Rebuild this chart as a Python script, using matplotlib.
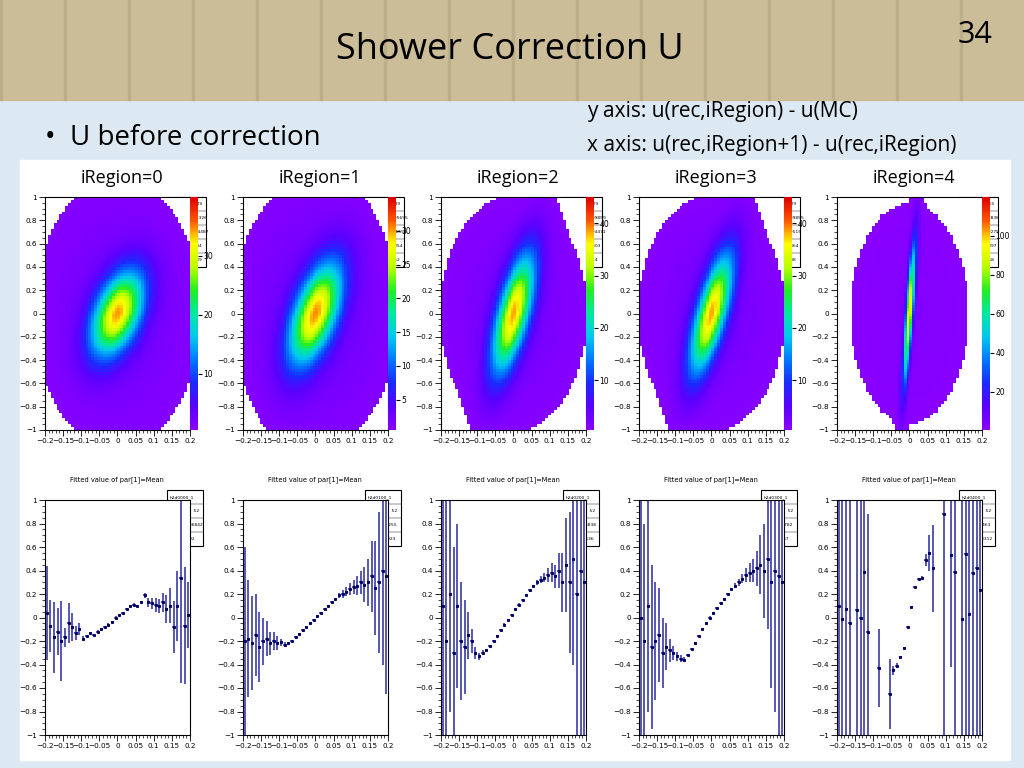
import numpy as np
import matplotlib
matplotlib.use("Agg")
import matplotlib.pyplot as plt
from matplotlib.colors import LinearSegmentedColormap
from matplotlib.patches import Rectangle

W, H = 1024, 768
regions = ["iRegion=0", "iRegion=1", "iRegion=2", "iRegion=3", "iRegion=4"]
# 2D histogram shape: centre x, centre y, sigma x, sigma y, correlation, peak
hx0 = [0.0, 0.0, 0.0, 0.0, 0.0]
hy0 = [0.0, 0.0, 0.0, 0.0, 0.0]
hsx = [0.05, 0.05, 0.04, 0.04, 0.012]
hsy = [0.25, 0.30, 0.35, 0.35, 0.40]
hrho = [0.45, 0.55, 0.65, 0.7, 0.8]
hpeak = [40, 35, 45, 45, 120]
# broad background spread (x, y)
bsx = [0.17, 0.17, 0.15, 0.15, 0.12]
bsy = [0.85, 0.85, 0.75, 0.75, 0.70]
cb_ticks = [[10, 20, 30], [5, 10, 15, 20, 25, 30], [10, 20, 30, 40], [10, 20, 30, 40], [20, 40, 60, 80, 100]]
stat_top = [["Entries   22149", "Mean x 0.002326", "Mean y -0.004487", "RMS x   0.0734", "RMS y   0.3089"],
            ["Entries   20139", "Mean x 0.0005695", "Mean y -0.001551", "RMS x   0.07354", "RMS y   0.3262"],
            ["Entries   20109", "Mean x 0.0009859", "Mean y 0.0004471", "RMS x   0.06603", "RMS y   0.3714"],
            ["Entries   20109", "Mean x 0.0009855", "Mean y 0.000515", "RMS x   0.06864", "RMS y   0.3408"],
            ["Entries   22165", "Mean x 0.002838", "Mean y 0.000275", "RMS x   0.04397", "RMS y   0.4158"]]
prof_names = ["h2d0000_1", "h2d0100_1", "h2d0200_1", "h2d0300_1", "h2d0400_1"]
prof_mean = ["-0.06842", "0.5255", "-0.6838", "0.6782", "0.1463"]
prof_rms = ["0.192", "0.4923", "0.5536", "0.647", "0.08312"]

px = [-0.195, -0.185, -0.175, -0.165, -0.155, -0.145, -0.135, -0.125, -0.115, -0.105,
      -0.095, -0.085, -0.075, -0.065, -0.055, -0.045, -0.035, -0.025, -0.015, -0.005,
      0.005, 0.015, 0.025, 0.035, 0.045, 0.055, 0.065, 0.075, 0.085, 0.095,
      0.105, 0.115, 0.125, 0.135, 0.145, 0.155, 0.165, 0.175, 0.185, 0.195]
py0 = [0.04, -0.07, -0.17, -0.12, -0.20, -0.17, -0.05, -0.08, -0.13, -0.10,
       -0.18, -0.16, -0.13, -0.15, -0.12, -0.10, -0.08, -0.06, -0.04, 0.00,
       0.02, 0.04, 0.07, 0.10, 0.11, 0.10, 0.13, 0.19, 0.13, 0.12,
       0.11, 0.10, 0.13, 0.07, 0.10, -0.08, 0.10, 0.34, -0.07, 0.02]
pe0 = [0.40, 0.22, 0.30, 0.20, 0.34, 0.08, 0.17, 0.12, 0.06, 0.05,
       0.02, 0.01, 0.01, 0.01, 0.01, 0.01, 0.01, 0.01, 0.01, 0.01,
       0.01, 0.01, 0.01, 0.01, 0.01, 0.01, 0.01, 0.02, 0.04, 0.05,
       0.06, 0.06, 0.08, 0.12, 0.15, 0.22, 0.30, 0.90, 0.50, 0.28]
py1 = [-0.20, -0.18, -0.22, -0.15, -0.25, -0.20, -0.18, -0.22, -0.20, -0.22,
       -0.21, -0.23, -0.22, -0.20, -0.17, -0.14, -0.11, -0.08, -0.05, -0.02,
       0.01, 0.04, 0.07, 0.10, 0.13, 0.16, 0.19, 0.20, 0.22, 0.24,
       0.26, 0.27, 0.30, 0.28, 0.30, 0.35, 0.25, 0.30, 0.40, 0.35]
pe1 = [0.80, 0.50, 0.40, 0.35, 0.30, 0.20, 0.15, 0.10, 0.08, 0.06,
       0.03, 0.02, 0.01, 0.01, 0.01, 0.01, 0.01, 0.01, 0.01, 0.01,
       0.01, 0.01, 0.01, 0.01, 0.01, 0.01, 0.02, 0.03, 0.04, 0.05,
       0.06, 0.08, 0.10, 0.15, 0.20, 0.30, 0.40, 0.60, 0.80, 1.00]
py2 = [0.10, -0.20, 0.20, -0.30, 0.10, -0.20, -0.25, -0.15, -0.20, -0.30,
       -0.33, -0.30, -0.28, -0.24, -0.20, -0.16, -0.11, -0.06, -0.02, 0.02,
       0.07, 0.11, 0.15, 0.19, 0.23, 0.27, 0.30, 0.32, 0.34, 0.36,
       0.38, 0.35, 0.40, 0.30, 0.45, 0.30, 0.50, 0.20, 0.40, 0.30]
pe2 = [1.50, 1.20, 1.00, 0.90, 0.70, 0.50, 0.40, 0.20, 0.10, 0.05,
       0.03, 0.02, 0.01, 0.01, 0.01, 0.01, 0.01, 0.01, 0.01, 0.01,
       0.01, 0.01, 0.01, 0.01, 0.01, 0.01, 0.02, 0.03, 0.04, 0.06,
       0.08, 0.10, 0.15, 0.25, 0.40, 0.60, 0.90, 1.20, 1.50, 1.50]
py3 = [0.00, -0.20, 0.10, -0.25, -0.20, -0.15, -0.30, -0.25, -0.28, -0.30,
       -0.33, -0.35, -0.36, -0.32, -0.27, -0.22, -0.16, -0.10, -0.05, 0.00,
       0.04, 0.08, 0.12, 0.16, 0.20, 0.24, 0.27, 0.30, 0.33, 0.36,
       0.38, 0.40, 0.42, 0.45, 0.40, 0.50, 0.30, 0.40, 0.35, 0.30]
pe3 = [1.50, 1.00, 0.90, 0.70, 0.50, 0.40, 0.30, 0.20, 0.10, 0.06,
       0.04, 0.03, 0.02, 0.01, 0.01, 0.01, 0.01, 0.01, 0.01, 0.01,
       0.01, 0.01, 0.01, 0.01, 0.01, 0.01, 0.02, 0.03, 0.04, 0.06,
       0.08, 0.10, 0.15, 0.25, 0.40, 0.60, 0.90, 1.20, 1.50, 1.50]
nan = float("nan")
py4 = [0.10, -0.01, 0.07, -0.05, nan, 0.06, 0.00, 0.39, -0.12, nan,
       nan, -0.43, nan, nan, -0.65, -0.45, -0.41, -0.34, -0.26, -0.08,
       0.09, 0.26, 0.33, 0.34, 0.49, 0.55, 0.42, nan, nan, 0.88,
       nan, 0.53, 0.39, nan, -0.01, 0.54, 0.03, 0.38, 0.42, 0.23]
pe4 = [2.00, 2.00, 2.00, 2.00, nan, 2.00, 2.00, 2.00, 1.00, nan,
       nan, 0.33, nan, nan, 0.30, 0.04, 0.02, 0.01, 0.01, 0.01,
       0.01, 0.01, 0.01, 0.01, 0.05, 0.15, 0.37, nan, nan, 2.00,
       nan, 0.95, 2.00, nan, 2.00, 2.00, 2.00, 2.00, 2.00, 2.00]
prof_y = [py0, py1, py2, py3, py4]
prof_e = [pe0, pe1, pe2, pe3, pe4]

cmap = LinearSegmentedColormap.from_list(
    "root", ["#8a00ff", "#5a00ff", "#1a2aff", "#0077ff", "#00c8f0", "#00e8a0", "#22ee22", "#bbff00", "#ffff00", "#ff5500", "#dd0000"])
cmap.set_under("white")

fig = plt.figure(figsize=(W / 100, H / 100), dpi=100)
fig.patch.set_facecolor("#dce9f2")

def rect(x, y, w, h):
    return [x / W, 1 - (y + h) / H, w / W, h / H]

bg = fig.add_axes([0, 0, 1, 1], zorder=-5)
bg.set_xlim(0, W); bg.set_ylim(H, 0); bg.axis("off")
bg.add_patch(Rectangle((0, 0), W, 100, color="#cbbd98"))
for i in range(0, W, 64):
    bg.add_patch(Rectangle((i, 0), 2, 100, color="#bcae88"))
bg.add_patch(Rectangle((20, 160), 990, 600, color="white"))
bg.text(510, 50, "Shower Correction U", fontsize=26, ha="center", va="center", family="Open Sans")
bg.text(975, 35, "34", fontsize=22, ha="center", va="center", family="Open Sans")
bg.text(45, 138, "•  U before correction", fontsize=20, ha="left", va="center", family="Open Sans")
bg.text(587, 112, "y axis: u(rec,iRegion) - u(MC)", fontsize=15, ha="left", va="center", family="Open Sans")
bg.text(587, 145, "x axis: u(rec,iRegion+1) - u(rec,iRegion)", fontsize=15, ha="left", va="center", family="Open Sans")

xb = np.linspace(-0.2, 0.2, 51)
yb = np.linspace(-1, 1, 81)
xc = 0.5 * (xb[:-1] + xb[1:]); yc = 0.5 * (yb[:-1] + yb[1:])
X, Y = np.meshgrid(xc, yc)
xt = [-0.2, -0.15, -0.1, -0.05, 0, 0.05, 0.1, 0.15, 0.2]
xtl = ["−0.2", "−0.15", "−0.1", "−0.05", "0", "0.05", "0.1", "0.15", "0.2"]
yt = [-1, -0.8, -0.6, -0.4, -0.2, 0, 0.2, 0.4, 0.6, 0.8, 1]
ytl = ["−1", "−0.8", "−0.6", "−0.4", "−0.2", "0", "0.2", "0.4", "0.6", "0.8", "1"]

def style(ax):
    ax.set_xlim(-0.2, 0.2); ax.set_ylim(-1, 1)
    ax.set_xticks(xt); ax.set_xticklabels(xtl, fontsize=5.2)
    ax.set_yticks(yt); ax.set_yticklabels(ytl, fontsize=5.2)
    ax.set_xticks(np.arange(-0.2, 0.2001, 0.01), minor=True)
    ax.set_yticks(np.arange(-1, 1.001, 0.05), minor=True)
    ax.tick_params(length=4, width=0.6, pad=2)
    ax.tick_params(which="minor", length=2, width=0.5)
    for s in ax.spines.values():
        s.set_linewidth(0.8)

def statbox(x, y, w, lines):
    lh = 14
    bg.add_patch(Rectangle((x, y), w, lh * len(lines), facecolor="white", edgecolor="black", lw=0.8, zorder=5))
    for k, t in enumerate(lines):
        bg.text(x + 3, y + lh * k + lh / 2, t, fontsize=3.2, va="center", zorder=6)
        if k > 0:
            bg.plot([x, x + w], [y + lh * k, y + lh * k], color="black", lw=0.3, zorder=6)

for i in range(5):
    ox = 198 * i
    ax = fig.add_axes(rect(45 + ox, 197, 145, 233))
    u = (X - hx0[i]) / hsx[i]; v = (Y - hy0[i]) / hsy[i]
    r = hrho[i]
    q = (u * u - 2 * r * u * v + v * v) / (1 - r * r)
    qb = (X / bsx[i]) ** 2 + (Y / bsy[i]) ** 2
    Z = 0.8 * hpeak[i] * np.exp(-0.5 * q) + 2.5 * np.exp(-0.5 * qb)
    Z = np.where(Z < 1.0, 0.0, Z)
    m = ax.pcolormesh(xb, yb, Z, cmap=cmap, vmin=0.5, vmax=hpeak[i])
    style(ax)
    cax = fig.add_axes(rect(190 + ox, 197, 8, 233))
    cb = fig.colorbar(m, cax=cax, ticks=cb_ticks[i])
    cb.ax.tick_params(labelsize=5.5, length=3, pad=1)
    cb.outline.set_visible(False)
    bg.add_patch(Rectangle((62 + ox, 162), 130, 30, color="white", zorder=4))
    bg.text(122 + ox, 178, regions[i], fontsize=13, ha="center", va="center", family="Open Sans", zorder=5)
    statbox(166 + ox, 197, 40, stat_top[i])

    ax2 = fig.add_axes(rect(45 + ox, 500, 145, 235))
    pyv = np.array(prof_y[i]); pev = np.array(prof_e[i])
    ax2.errorbar(px, pyv, yerr=pev, xerr=0.004, fmt="none", ecolor="#2a2aa0", elinewidth=1.1)
    ax2.plot(px, pyv, "s", color="#000066", ms=1.2)
    style(ax2)
    bg.text(117 + ox, 480, "Fitted value of par[1]=Mean", fontsize=4.8, ha="center", va="center")
    statbox(167 + ox, 490, 36, [prof_names[i], "Entries      52", "Mean " + prof_mean[i], "RMS  " + prof_rms[i]])

fig.savefig("out.png", dpi=100)
